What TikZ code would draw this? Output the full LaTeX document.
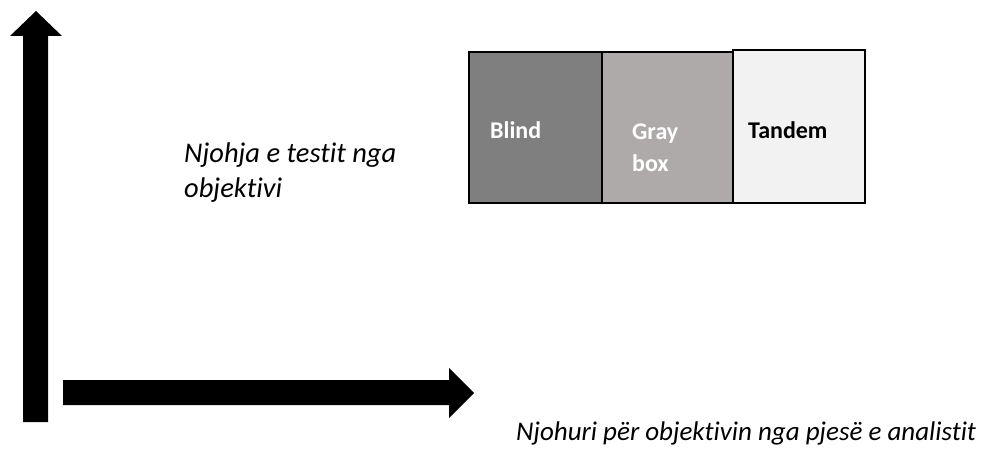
\documentclass[tikz,border=0pt]{standalone}
\usepackage{fontspec}
\setmainfont[Ligatures=NoCommon]{Carlito}
\definecolor{blindgray}{HTML}{7F7F7F}
\definecolor{graybox}{HTML}{AEAAAA}
\definecolor{tandemgray}{HTML}{F2F2F2}
\begin{document}
\begin{tikzpicture}[x=1pt,y=-1pt,
  box/.style={draw=black,line width=2pt},
  boldlbl/.style={anchor=base west,inner sep=0pt,font=\fontsize{24}{31}\selectfont\bfseries},
  itlbl/.style={anchor=base west,inner sep=0pt,font=\fontsize{27}{30}\selectfont\itshape,align=left},
  itlblbig/.style={itlbl,font=\fontsize{28.5}{30}\selectfont\itshape},
  blockarrow/.style={fill=black,draw=none}]
\useasboundingbox (0,0) rectangle (993,457);
% vertical block arrow
\fill[blockarrow] (23,422) -- (23,36) -- (10,36) -- (36,11) -- (62,36) -- (48,36) -- (48,422) -- cycle;
% horizontal block arrow
\fill[blockarrow] (63,380) -- (449,380) -- (449,368) -- (474,393) -- (449,418) -- (449,405) -- (63,405) -- cycle;
% boxes
\draw[box,fill=blindgray] (469,52) rectangle (602,203);
\draw[box,fill=graybox] (602,52) rectangle (735,203);
\draw[box,fill=tandemgray] (733,50) rectangle (865,203);
\node[boldlbl,text=white] (blind) at (490,139) {Blind};
\node[boldlbl,text=white] (gray) at (632,140) {Gray};
\node[boldlbl,text=white] (box) at (632,172) {box};
\node[boldlbl,text=black] (tandem) at (748,139) {Tandem};
\node[itlblbig] (ylabel) at (184,163) {Njohja e testit nga};
\node[itlblbig] (ylabel2) at (184,197) {objektivi};
\node[itlbl] (xlabel) at (516,440) {Njohuri për objektivin nga pjesë e analistit};
\end{tikzpicture}
\end{document}
